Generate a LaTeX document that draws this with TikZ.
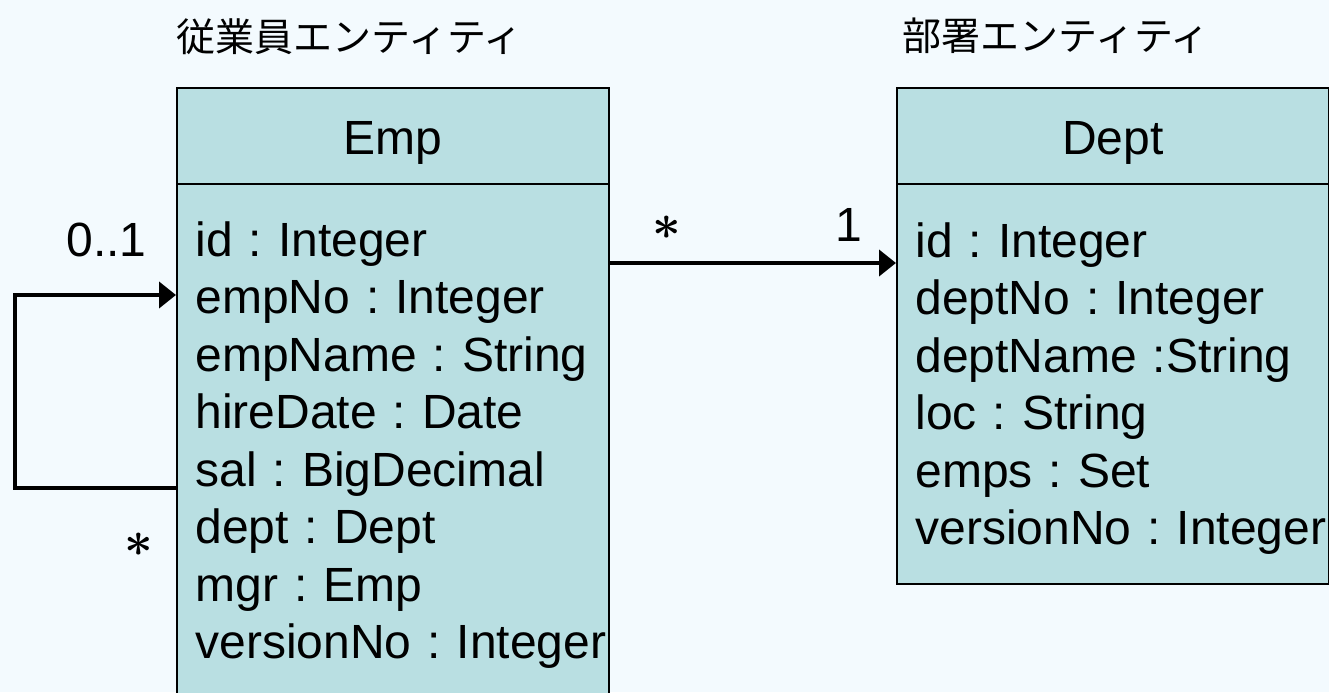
\documentclass[tikz,border=0pt]{standalone}
\usepackage{fontspec}
\setmainfont{Liberation Sans}
\newfontfamily\jpfont{Noto Sans CJK JP}
\usetikzlibrary{arrows.meta}

\definecolor{pagebg}{RGB}{243,250,254}
\definecolor{classfill}{RGB}{185,223,226}
\newcommand{\attrfont}{\fontsize{24}{28.75}\selectfont\frenchspacing}
\newcommand{\titlefont}{\jpfont\fontsize{19.5}{22}\selectfont}

\begin{document}
\begin{tikzpicture}[x=0.5pt,y=-0.5pt,>={Triangle[length=8.5pt,width=13pt]},
	class head/.style={draw,fill=classfill,line width=1pt,inner sep=0pt,minimum width=216pt,text height=33pt,text depth=15pt,font=\attrfont,anchor=north west},
	class body/.style={draw,fill=classfill,line width=1pt,inner sep=0pt,minimum width=216pt,anchor=north west},
	attr list/.style={inner sep=0pt,text width=212pt,align=left,anchor=base west,font=\attrfont},
	mult/.style={inner sep=0pt,font=\attrfont},
	assoc/.style={->,line width=2pt}]

	%page and its margins
	\fill[pagebg] (0,0) rectangle (1329,692);
	\useasboundingbox (0,0) rectangle (1329,692);

	%titles over the two classes
	\node[anchor=west,inner sep=0pt,font=\titlefont] (empTitle) at (176,37) {従業員エンティティ};
	\node[anchor=west,inner sep=0pt,font=\titlefont] (deptTitle) at (902,36) {部署エンティティ};

	%the Emp class
	\begin{scope}
		\node[class head] (empHead) at (176,87) {Emp};
		\node[class body,minimum height=261pt] (empBody) at (176,183) {};
		\node[attr list] (empAttrs) at (195,256) {id : Integer\\ empNo : Integer\\ empName : String\\ hireDate : Date\\ sal : BigDecimal\\ dept : Dept\\ mgr : Emp\\ versionNo : Integer};
	\end{scope}

	%the Dept class
	\begin{scope}
		\node[class head] (deptHead) at (896,87) {Dept};
		\node[class body,minimum height=200pt] (deptBody) at (896,183) {};
		\node[attr list] (deptAttrs) at (915,257) {id : Integer\\ deptNo : Integer\\ deptName :String\\ loc : String\\ emps : Set\\ versionNo : Integer};
	\end{scope}

	%associations and their multiplicities
	\draw[assoc] ([yshift=-40pt]empBody.north east) -- ([yshift=-40pt]deptBody.north west);
	\node[mult,font=\fontsize{27}{30}\selectfont\boldmath] (empMany) at (667,228) {$\ast$};
	\node[mult,anchor=base west] (deptOne) at (835,241) {1};

	\coordinate (loopLeft) at (15,390);
	\draw[assoc] ([yshift=-152.5pt]empBody.north west) -| (loopLeft) |- ([yshift=-56pt]empBody.north west);
	\node[mult,anchor=base west] (mgrOne) at (66,256) {0..1};
	\node[mult,font=\fontsize{27}{30}\selectfont\boldmath] (staffMany) at (139,545) {$\ast$};
\end{tikzpicture}
\end{document}
